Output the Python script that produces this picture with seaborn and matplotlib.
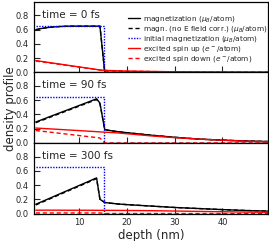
import numpy as np
import pandas as pd
import matplotlib
matplotlib.use("Agg")
import matplotlib.pyplot as plt
import seaborn as sns

# --- données ---
depth = [1, 2, 4, 6, 8, 10, 12, 13, 13.7, 14.4, 15.4, 16, 18, 20, 25, 30, 35, 40, 45, 50]

times = ["0", "90", "300"]

# time = 0 fs
mag_0 = [0.60, 0.615, 0.635, 0.645, 0.65, 0.65, 0.65, 0.65, 0.65, 0.65,
         0.005, 0.0, 0.0, 0.0, 0.0, 0.0, 0.0, 0.0, 0.0, 0.0]
magnoE_0 = [0.60, 0.615, 0.635, 0.645, 0.65, 0.65, 0.65, 0.65, 0.65, 0.65,
            0.005, 0.0, 0.0, 0.0, 0.0, 0.0, 0.0, 0.0, 0.0, 0.0]
up_0 = [0.167, 0.157, 0.137, 0.118, 0.098, 0.078, 0.059, 0.049, 0.042, 0.035,
        0.030, 0.028, 0.024, 0.020, 0.014, 0.010, 0.007, 0.005, 0.004, 0.003]
down_0 = [0.160, 0.151, 0.132, 0.113, 0.094, 0.075, 0.056, 0.047, 0.040, 0.033,
          0.028, 0.026, 0.022, 0.018, 0.013, 0.009, 0.006, 0.004, 0.003, 0.002]

# time = 90 fs
mag_90 = [0.295, 0.32, 0.372, 0.423, 0.474, 0.525, 0.576, 0.602, 0.62, 0.56,
          0.19, 0.18, 0.16, 0.145, 0.11, 0.08, 0.055, 0.04, 0.028, 0.02]
magnoE_90 = [0.285, 0.31, 0.362, 0.413, 0.464, 0.515, 0.566, 0.592, 0.61, 0.55,
             0.19, 0.18, 0.16, 0.145, 0.11, 0.08, 0.055, 0.04, 0.028, 0.02]
up_90 = [0.21, 0.206, 0.198, 0.19, 0.182, 0.174, 0.166, 0.162, 0.159, 0.156,
         0.152, 0.15, 0.142, 0.13, 0.10, 0.075, 0.055, 0.038, 0.025, 0.016]
down_90 = [0.175, 0.167, 0.152, 0.136, 0.121, 0.105, 0.089, 0.082, 0.076, 0.07,
           0.0, 0.0, 0.0, 0.0, 0.0, 0.0, 0.0, 0.0, 0.0, 0.0]

# time = 300 fs
mag_300 = [0.13, 0.159, 0.217, 0.276, 0.334, 0.392, 0.45, 0.48, 0.50, 0.20,
           0.155, 0.15, 0.135, 0.125, 0.105, 0.085, 0.07, 0.055, 0.042, 0.033]
magnoE_300 = [0.12, 0.149, 0.207, 0.266, 0.324, 0.382, 0.44, 0.47, 0.49, 0.20,
              0.155, 0.15, 0.135, 0.125, 0.105, 0.085, 0.07, 0.055, 0.042, 0.033]
up_300 = [0.047, 0.047, 0.047, 0.047, 0.046, 0.046, 0.046, 0.046, 0.045, 0.045,
          0.045, 0.045, 0.044, 0.043, 0.04, 0.035, 0.03, 0.025, 0.02, 0.017]
down_300 = [0.008, 0.008, 0.008, 0.008, 0.008, 0.008, 0.008, 0.008, 0.008, 0.008,
            0.0, 0.0, 0.0, 0.0, 0.0, 0.0, 0.0, 0.0, 0.0, 0.0]

# aimantation initiale (identique dans les trois panneaux)
init_depth = [1, 15.3, 15.3, 50]
init_mag = [0.65, 0.65, 0.0, 0.0]

panels = [
    (mag_0, magnoE_0, up_0, down_0),
    (mag_90, magnoE_90, up_90, down_90),
    (mag_300, magnoE_300, up_300, down_300),
]

labels = [
    r"magnetization ($\mu_B$/atom)",
    r"magn. (no E field corr.) ($\mu_B$/atom)",
    r"initial magnetization ($\mu_B$/atom)",
    r"excited spin up ($e^-$/atom)",
    r"excited spin down ($e^-$/atom)",
]

# --- style ---
sns.set_style("ticks")
plt.rcParams.update({
    "xtick.direction": "in",
    "ytick.direction": "in",
    "xtick.major.size": 4,
    "ytick.major.size": 4,
    "xtick.labelsize": 6,
    "ytick.labelsize": 6,
    "axes.linewidth": 0.9,
    "axes.edgecolor": "black",
})
plt.rcParams['font.family'] = ['DejaVu Sans']

fig, axes = plt.subplots(3, 1, sharex=True, figsize=(2.69, 2.41), dpi=100)
fig.subplots_adjust(left=0.126, right=0.996, top=0.992, bottom=0.114, hspace=0)

for ax, t, (mag, magnoE, up, down) in zip(axes, times, panels):
    kw = dict(ax=ax, lw=1.0, estimator=None, sort=False)
    sns.lineplot(x=depth, y=mag, color="black", label=labels[0], **kw)
    sns.lineplot(x=depth, y=magnoE, color="black", ls=(0, (3, 2)), label=labels[1], **kw)
    sns.lineplot(x=init_depth, y=init_mag, color="blue", ls=(0, (1, 1)), label=labels[2], **kw)
    sns.lineplot(x=depth, y=up, color="red", label=labels[3], **kw)
    sns.lineplot(x=depth, y=down, color="red", ls=(0, (3, 2)), label=labels[4], **kw)

    ax.set_xlim(0.6, 49.5)
    ax.set_ylim(0, 0.99)
    ax.set_yticks([0.0, 0.2, 0.4, 0.6, 0.8])
    ax.set_xticks([10, 20, 30, 40])
    ax.text(0.034, 0.82, f"time = {t} fs", transform=ax.transAxes,
            fontsize=7.5, va="center", ha="left")
    ax.set_ylabel("")
    if ax is axes[0]:
        ax.legend(loc="upper right", bbox_to_anchor=(1.0, 0.83), frameon=False,
                  fontsize=5.35, handlelength=1.6, handletextpad=0.4,
                  labelspacing=0.0, borderaxespad=0, borderpad=0)
    else:
        ax.get_legend().remove()

axes[-1].set_xlabel("depth (nm)", fontsize=8.5, labelpad=1)
fig.text(0.038, 0.55, "density profile", rotation=90, fontsize=8.5,
         va="center", ha="center")

plt.savefig("out.png", dpi=100)
